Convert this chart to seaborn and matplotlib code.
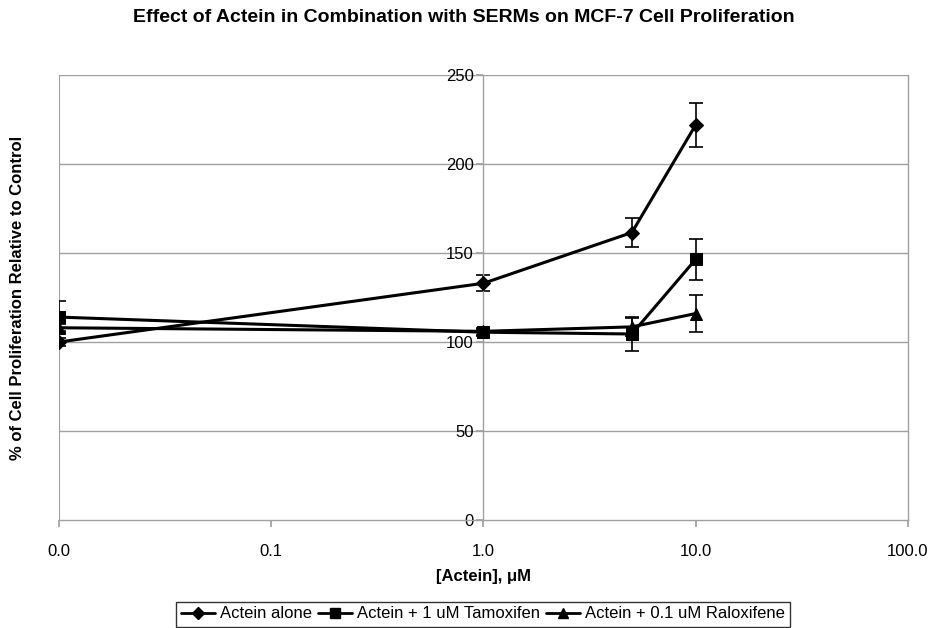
import numpy as np
import pandas as pd
import matplotlib
matplotlib.use("Agg")
import matplotlib.pyplot as plt
import seaborn as sns
from matplotlib.lines import Line2D

# Data
conc = [0.01, 1.0, 5.0, 10.0]
series_names = ["Actein alone", "Actein + 1 uM Tamoxifen", "Actein + 0.1 uM Raloxifene"]
actein_alone = [100, 133, 161.5, 222]
actein_alone_err = [2.5, 4.5, 8, 12.5]
tamoxifen = [114, 105.5, 104.5, 146.5]
tamoxifen_err = [9, 2, 9.5, 11.5]
raloxifene = [108, 106, 108.5, 116]
raloxifene_err = [2, 2, 5, 10.5]
x_tick_labels = ["0.0", "0.1", "1.0", "10.0", "100.0"]
y_ticks = [0, 50, 100, 150, 200, 250]

values = [actein_alone, tamoxifen, raloxifene]
errors = [actein_alone_err, tamoxifen_err, raloxifene_err]
markers = ["D", "s", "^"]
msizes = [7, 8, 8]

rows = []
for name, vals, errs in zip(series_names, values, errors):
    for c, v, e in zip(conc, vals, errs):
        rows.append({"conc": c, "value": v, "err": e, "series": name})
df = pd.DataFrame(rows)

sns.set_theme(style="white", rc={"text.color": "black", "axes.labelcolor": "black",
                                 "xtick.color": "black", "ytick.color": "black"})
plt.rcParams['font.family'] = ['Liberation Sans', 'DejaVu Sans']

fig = plt.figure(figsize=(9.29, 6.28), dpi=100)
ax = fig.add_axes([59/929, 1-520/628, (908-59)/929, (520-75)/628])

grey = "#a0a0a0"
ax.set_xscale("log")
ax.set_xlim(0.01, 100)
ax.set_ylim(0, 250)

for yt in y_ticks[1:]:
    ax.axhline(yt, color=grey, lw=1, zorder=0)

for name, mk, ms in zip(series_names, markers, msizes):
    sub = df[df.series == name]
    sns.lineplot(data=sub, x="conc", y="value", ax=ax, color="black", lw=2.2,
                 marker=mk, markersize=ms, markeredgecolor="black", legend=False, zorder=3)
    ax.errorbar(sub["conc"], sub["value"], yerr=sub["err"], fmt="none", ecolor="black",
                elinewidth=1.2, capsize=5, capthick=1.2, zorder=2)

# spines
ax.spines['left'].set_position(('data', 1.0))
for s in ['left', 'bottom', 'right', 'top']:
    ax.spines[s].set_color(grey)
    ax.spines[s].set_linewidth(1)
ax.spines['top'].set_visible(False)
ax.axvline(0.01, color=grey, lw=1.5, zorder=0)

ax.set_yticks(y_ticks)
ax.set_yticklabels([str(y) for y in y_ticks], fontsize=12)
ax.tick_params(axis='y', direction='out', length=5, color=grey, labelcolor="black", pad=2, left=True)
ax.set_xticks([0.01, 0.1, 1, 10, 100])
ax.set_xticklabels(x_tick_labels, fontsize=12)
ax.xaxis.set_minor_locator(matplotlib.ticker.NullLocator())
ax.tick_params(axis='x', direction='out', length=5, color=grey, labelcolor="black", pad=12, bottom=True)

ax.set_xlabel("")
ax.set_ylabel("")
fig.text(0.5 * (59 + 908) / 929, 1 - 576/628, "[Actein], μM", ha="center", va="center",
         fontsize=12, fontweight="bold", color="black")
fig.text(18/929, 1 - 298/628, "% of Cell Proliferation Relative to Control", ha="center",
         va="center", rotation=90, fontsize=12, fontweight="bold", color="black")
fig.text(464/929, 1 - 18/628, "Effect of Actein in Combination with SERMs on MCF-7 Cell Proliferation",
         ha="center", va="center", fontsize=14, fontweight="bold", color="black")

handles = [Line2D([0], [0], color="black", lw=2, marker=m, markersize=ms * 0.85)
           for m, ms in zip(markers, msizes)]
leg = fig.legend(handles, series_names, loc="center", bbox_to_anchor=(483/929, 1 - 614/628),
                 ncol=3, frameon=True, fontsize=12, handlelength=2.0, handletextpad=0.3,
                 columnspacing=0.4, borderpad=0.3, fancybox=False)
leg.get_frame().set_edgecolor("black")
leg.get_frame().set_linewidth(1)
for t in leg.get_texts():
    t.set_color("black")

fig.savefig("out.png", dpi=100)
